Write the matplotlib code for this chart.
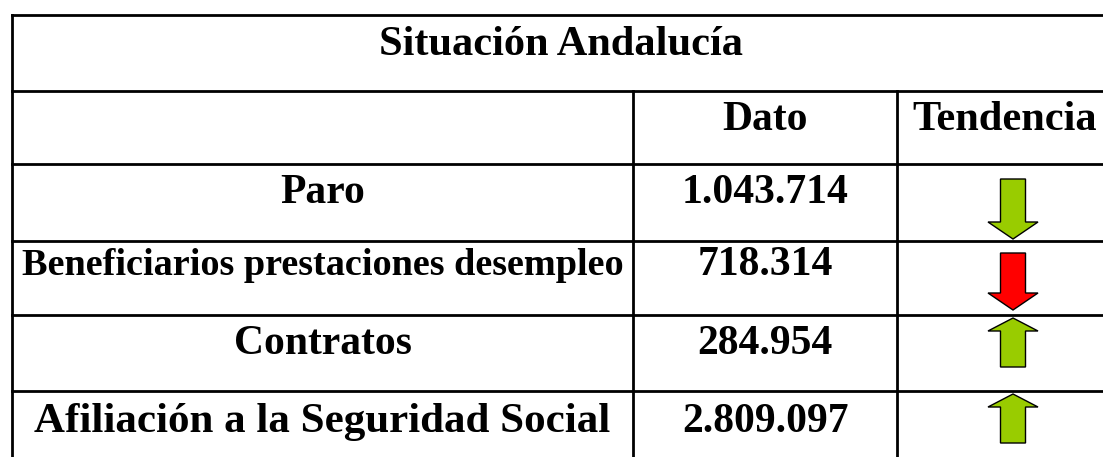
import matplotlib
matplotlib.use("Agg")
import matplotlib.pyplot as plt
from matplotlib.patches import Polygon

title = "Situación Andalucía"
col_headers = ["Dato", "Tendencia"]
labels = ["Paro", "Beneficiarios prestaciones desempleo", "Contratos",
          "Afiliación a la Seguridad Social"]
values = ["1.043.714", "718.314", "284.954", "2.809.097"]
trends = ["down", "down", "up", "up"]
trend_colors = ["#99CC00", "#FF0000", "#99CC00", "#99CC00"]

W, H = 1103, 457
fig = plt.figure(figsize=(W / 100, H / 100), dpi=100)
ax = fig.add_axes([0, 0, 1, 1])
ax.set_xlim(0, W)
ax.set_ylim(H, 0)
ax.axis("off")

font = ["Liberation Serif", "DejaVu Serif"]
lw = 2.0
x_left, x_dato, x_tend, x_right = 12, 633, 897, 1130
row_y = [15, 91, 164, 241, 315, 391, 470]

# horizontal lines
for y in row_y[:-1]:
    ax.plot([x_left, x_right], [y, y], color="black", lw=lw, solid_capstyle="projecting")
# vertical lines
ax.plot([x_left, x_left], [row_y[0], row_y[-1]], color="black", lw=lw)
for x in (x_dato, x_tend):
    ax.plot([x, x], [row_y[1], row_y[-1]], color="black", lw=lw)

# title
ax.text(561, row_y[0] + 40, title, ha="center", va="baseline",
        fontsize=30.5, fontweight="bold", family=font)
# column headers
ax.text((x_dato + x_tend) / 2, row_y[1] + 39, col_headers[0], ha="center",
        va="baseline", fontsize=30, fontweight="bold", family=font)
ax.text(1005, row_y[1] + 39, col_headers[1], ha="center",
        va="baseline", fontsize=30.5, fontweight="bold", family=font)

label_sizes = [30, 27.5, 30, 31]
label_offsets = [39, 34, 39, 41]
arrow_cx = 1013
for i, (lab, val, tr, col) in enumerate(zip(labels, values, trends, trend_colors)):
    top = row_y[i + 2]
    ax.text((x_left + x_dato) / 2, top + label_offsets[i], lab, ha="center",
            va="baseline", fontsize=label_sizes[i], fontweight="bold", family=font)
    ax.text((x_dato + x_tend) / 2, top + label_offsets[i], val, ha="center",
            va="baseline", fontsize=30, fontweight="bold", family=font)
    bw, hw = 12.5, 25
    if tr == "down":
        y0, y1 = top + (15 if i == 0 else 12), top + (75 if i == 0 else 69)
        hb = y1 - 17
        pts = [(arrow_cx - bw, y0), (arrow_cx + bw, y0), (arrow_cx + bw, hb),
               (arrow_cx + hw, hb), (arrow_cx, y1), (arrow_cx - hw, hb),
               (arrow_cx - bw, hb)]
    else:
        y0, y1 = top + 3, top + 52
        hb = y0 + 13
        pts = [(arrow_cx, y0), (arrow_cx + hw, hb), (arrow_cx + bw, hb),
               (arrow_cx + bw, y1), (arrow_cx - bw, y1), (arrow_cx - bw, hb),
               (arrow_cx - hw, hb)]
    ax.add_patch(Polygon(pts, closed=True, facecolor=col, edgecolor="black",
                         lw=1.0, joinstyle="miter"))

fig.savefig("out.png", dpi=100, facecolor="white")
